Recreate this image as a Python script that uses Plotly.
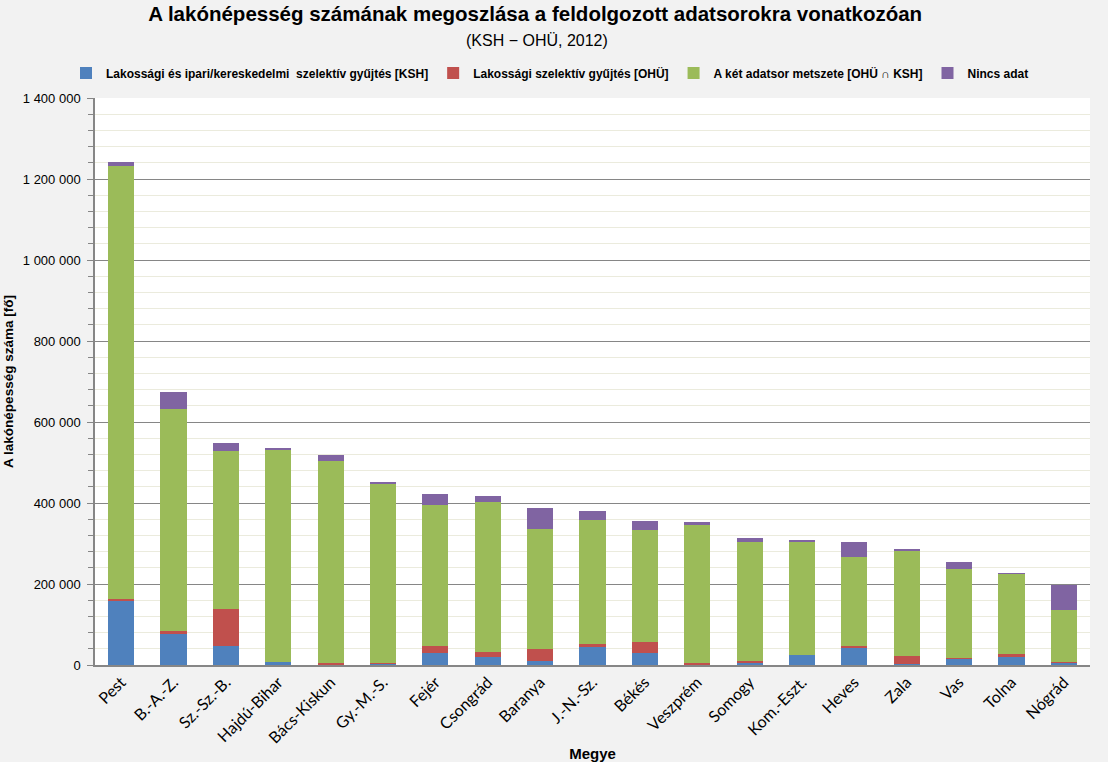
import plotly.graph_objects as go

categories = ["Pest", "B.-A.-Z.", "Sz.-Sz.-B.", "Hajdú-Bihar", "Bács-Kiskun", "Gy.-M.-S.",
              "Fejér", "Csongrád", "Baranya", "J.-N.-Sz.", "Békés", "Veszprém", "Somogy",
              "Kom.-Eszt.", "Heves", "Zala", "Vas", "Tolna", "Nógrád"]

ksh = [157000, 77000, 47000, 7500, 1000, 3000, 29000, 19000, 10000, 44000,
       29000, 1000, 5000, 24700, 42800, 3000, 15000, 20000, 5000]
ohu = [6000, 7000, 91000, 0, 4000, 2000, 18000, 13000, 29500, 8000,
       28600, 3000, 5000, 0, 5000, 19000, 3000, 7000, 3000]
both = [1069000, 548000, 390000, 525500, 498700, 444000, 348000, 370000, 296500, 306000,
        275400, 341700, 293700, 279000, 219000, 259500, 219000, 197700, 128000]
nodata = [10000, 42000, 20000, 3000, 15000, 3000, 27000, 15000, 52000, 22000,
          22500, 7300, 10000, 5000, 37000, 2500, 17000, 2300, 61500]

series_names = [
    "Lakossági és ipari/kereskedelmi\u00a0\u00a0szelektív gyűjtés [KSH]",
    "Lakossági szelektív gyűjtés [OHÜ]",
    "A két adatsor metszete [OHÜ ∩ KSH]",
    "Nincs adat",
]
colors = ["#4F81BD", "#C0504D", "#9BBB59", "#8064A2"]

fig = go.Figure()
for name, vals, col in zip(series_names, [ksh, ohu, both, nodata], colors):
    fig.add_trace(go.Bar(x=categories, y=vals, name=name, marker=dict(color=col, line=dict(width=0))))

fig.update_layout(
    barmode="stack",
    bargap=0.5,
    width=1108, height=762,
    paper_bgcolor="#F2F2F2",
    plot_bgcolor="#FFFFFF",
    margin=dict(l=95, r=18, t=98, b=97, autoexpand=False),
    separators=", ",
    font=dict(family="Liberation Sans, Arial, sans-serif", color="#000000"),
    title=dict(
        text="A lakónépesség számának megoszlása a feldolgozott adatsorokra vonatkozóan",
        font=dict(family="Liberation Sans, Arial", size=20.5, weight="bold", color="#000000"),
        x=0.483, xref="container", xanchor="center",
        y=1 - 14 / 762, yref="container", yanchor="middle",
    ),
    annotations=[dict(
        text="(KSH − OHÜ, 2012)", xref="paper", yref="paper",
        x=(537 - 95) / 995, y=1 + (98 - 40) / 567, xanchor="center", yanchor="middle",
        showarrow=False,
        font=dict(family="Liberation Sans, Arial", size=16, color="#000000"),
    )],
    legend=dict(
        orientation="h", xref="container", x=550 / 1108, xanchor="center",
        yref="container", y=1 - 73 / 762, yanchor="middle",
        traceorder="normal",
        font=dict(family="Liberation Sans, Arial", size=12, weight="bold", color="#000000"),
        itemwidth=30, tracegroupgap=0, bgcolor="rgba(0,0,0,0)",
    ),
    xaxis=dict(
        automargin=False,
        tickangle=-45,
        tickfont=dict(family="Lato, Open Sans, sans-serif", size=16, color="#000000"),
        showline=True, linecolor="#868686", linewidth=1.5,
        ticks="",
        title=dict(text="Megye", font=dict(family="Liberation Sans, Arial", size=15, weight="bold"), standoff=8),
        range=[-0.5, len(categories) - 0.5],
    ),
    yaxis=dict(
        automargin=False,
        range=[0, 1400000], dtick=200000, tickformat=",d",
        tickfont=dict(family="Liberation Sans, Arial", size=13, color="#000000"),
        showline=True, linecolor="#868686", linewidth=1.5,
        ticks="outside", ticklen=6, tickcolor="#868686",
        ticklabelstandoff=4,
        showgrid=True, gridcolor="#868686", gridwidth=1,
        zeroline=False,
        minor=dict(dtick=40000, ticks="outside", ticklen=5, tickcolor="#868686",
                   showgrid=True, gridcolor="#EBEBDD", gridwidth=1),
        title=dict(text="A lakónépesség száma [fő]", font=dict(family="Liberation Sans, Arial", size=13.5, weight="bold"), standoff=6),
    ),
)

fig.write_html("out.html")
